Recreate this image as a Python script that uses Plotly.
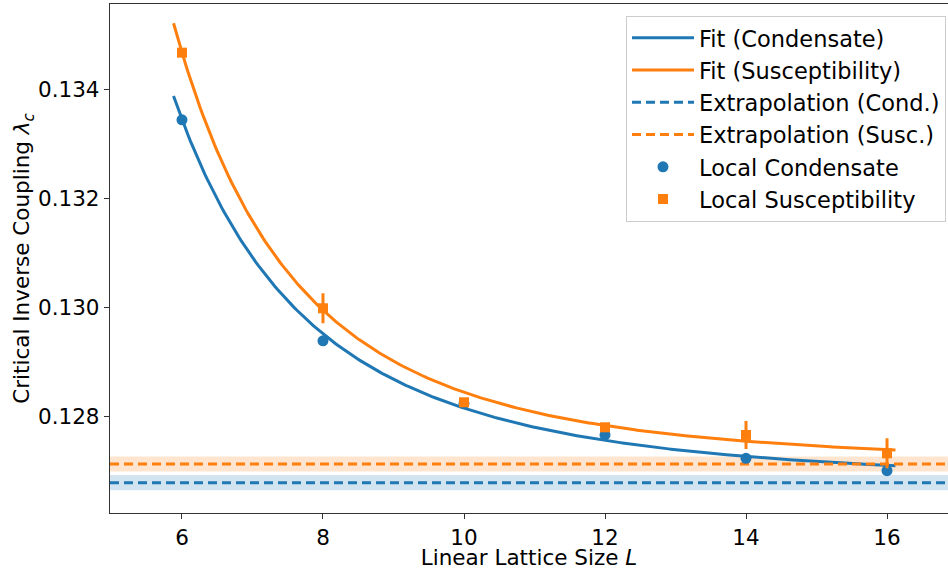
import numpy as np
import plotly.graph_objects as go

# Linear lattice sizes and local critical couplings
L = [6, 8, 10, 12, 14, 16]
cond_vals = [0.13344, 0.12939, 0.12824, 0.127665, 0.127237, 0.12701]
cond_errs = [0.00004, 0.00004, 0.00004, 0.00004, 0.00004, 0.00004]
susc_vals = [0.134671, 0.129987, 0.128264, 0.127806, 0.127665, 0.127329]
susc_errs = [0.00008, 0.000275, 0.00005, 0.00005, 0.000257, 0.000275]

# Finite-size fit: lambda(L) = lambda_inf + a * L^(-c)
cond_inf, cond_inf_err, cond_a, cond_c = 0.12679, 0.00014, 1.72, 3.1
susc_inf, susc_inf_err, susc_a, susc_c = 0.127133, 0.000137, 3.456, 3.42

x_range = [4.979, 16.865]
y_range = [0.126235, 0.135563]
x_ticks = [6, 8, 10, 12, 14, 16]
y_ticks = [0.128, 0.130, 0.132, 0.134]

BLUE = "#1f77b4"
ORANGE = "#ff7f0e"
FONT = "DejaVu Sans"
TICK_SIZE = 21.5
LEGEND_SIZE = 22.5

L_fit = np.linspace(min(L) - 0.12, max(L) + 0.12, 300)
cond_fit = cond_inf + cond_a * L_fit ** (-cond_c)
susc_fit = susc_inf + susc_a * L_fit ** (-susc_c)

fig = go.Figure()

fig.add_trace(go.Scatter(
    x=L_fit, y=cond_fit, mode="lines", name="Fit (Condensate)",
    line=dict(color=BLUE, width=3), legendrank=1, legendgroup="g1"))
fig.add_trace(go.Scatter(
    x=L_fit, y=susc_fit, mode="lines", name="Fit (Susceptibility)",
    line=dict(color=ORANGE, width=3), legendrank=2, legendgroup="g2"))
fig.add_trace(go.Scatter(
    x=x_range, y=[cond_inf, cond_inf], mode="lines", name="Extrapolation (Cond.)",
    line=dict(color=BLUE, width=3, dash="9px,5px"), legendrank=3, legendgroup="g3"))
fig.add_trace(go.Scatter(
    x=x_range, y=[susc_inf, susc_inf], mode="lines", name="Extrapolation (Susc.)",
    line=dict(color=ORANGE, width=3, dash="9px,5px"), legendrank=4, legendgroup="g4"))
fig.add_trace(go.Scatter(
    x=L, y=cond_vals, mode="markers", name="Local Condensate",
    marker=dict(color=BLUE, size=11, symbol="circle"),
    error_y=dict(type="data", array=cond_errs, color=BLUE, thickness=3, width=0),
    legendrank=5, legendgroup="g5"))
fig.add_trace(go.Scatter(
    x=L, y=susc_vals, mode="markers", name="Local Susceptibility",
    marker=dict(color=ORANGE, size=10, symbol="square"),
    error_y=dict(type="data", array=susc_errs, color=ORANGE, thickness=3, width=0),
    legendrank=6, legendgroup="g6"))

# Uncertainty bands of the extrapolated values
for val, err, col in [(cond_inf, cond_inf_err, "rgba(31,119,180,0.2)"),
                      (susc_inf, susc_inf_err, "rgba(255,127,14,0.2)")]:
    fig.add_shape(type="rect", xref="x domain", yref="y",
                  x0=0, x1=1, y0=val - err, y1=val + err,
                  fillcolor=col, line=dict(width=0), layer="below")

fig.update_layout(
    width=948, height=570,
    margin=dict(l=110, r=0, t=4, b=57),
    plot_bgcolor="white", paper_bgcolor="white",
    font=dict(family=FONT, size=TICK_SIZE, color="black"),
    showlegend=True,
    legend=dict(
        x=0.9976, y=0.977, xanchor="right", yanchor="top",
        bgcolor="rgba(255,255,255,0.8)", bordercolor="#cccccc", borderwidth=1,
        font=dict(family=FONT, size=LEGEND_SIZE, color="black"),
        traceorder="grouped", tracegroupgap=0, itemwidth=62,
    ),
    xaxis=dict(
        range=x_range, tickvals=x_ticks, ticktext=[str(v) for v in x_ticks],
        showgrid=False, zeroline=False,
        showline=True, linecolor="#333333", linewidth=1.3, mirror=True,
        ticks="outside", ticklen=5, tickcolor="#333333", tickwidth=1.3,
        tickfont=dict(family=FONT, size=TICK_SIZE, color="black"),
        title=dict(text="Linear Lattice Size <i>L</i>",
                   font=dict(family=FONT, size=TICK_SIZE, color="black"), standoff=1),
    ),
    yaxis=dict(
        range=y_range, tickvals=y_ticks, ticktext=[f"{v:.3f}" for v in y_ticks],
        showgrid=False, zeroline=False,
        showline=True, linecolor="#333333", linewidth=1.3, mirror=False,
        ticks="outside", ticklen=5, tickcolor="#333333", tickwidth=1.3,
        tickfont=dict(family=FONT, size=TICK_SIZE, color="black"),
        title=dict(text="Critical Inverse Coupling <i>λ</i><sub><i>c</i></sub>",
                   font=dict(family=FONT, size=TICK_SIZE, color="black"), standoff=1),
    ),
)

fig.write_html("out.html")
